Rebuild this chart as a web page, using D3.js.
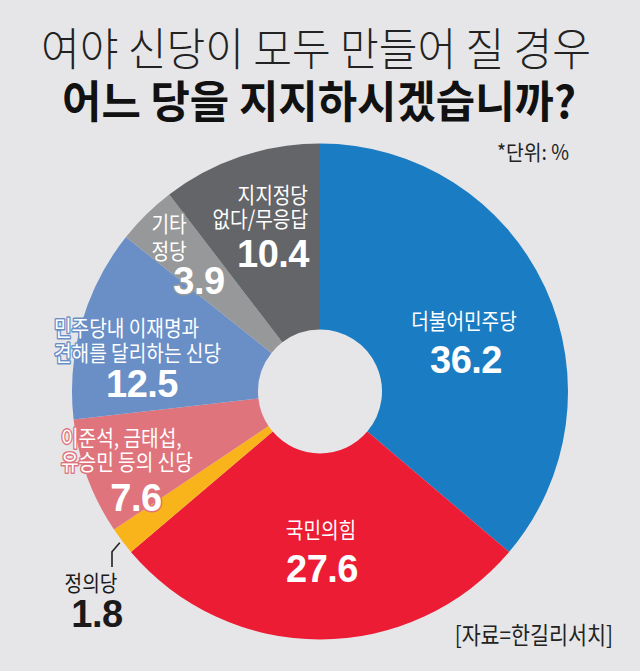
<!DOCTYPE html>
<html><head><meta charset="utf-8">
<script src="https://cdn.jsdelivr.net/npm/d3@7"></script>
<style>
html,body{margin:0;padding:0;background:#e6e6e8;}
svg{display:block;}
</style></head>
<body>
<script>
// ---- data ----
const categories = ["더불어민주당","국민의힘","정의당","이준석, 금태섭, 유승민 등의 신당","민주당내 이재명과 견해를 달리하는 신당","기타 정당","지지정당 없다/무응답"];
const values = [36.2, 27.6, 1.8, 7.6, 12.5, 3.9, 10.4];
const labelLines = [["더불어민주당"],["국민의힘"],["정의당"],["이준석, 금태섭,","유승민 등의 신당"],["민주당내 이재명과","견해를 달리하는 신당"],["기타","정당"],["지지정당","없다/무응답"]];
const titleLines = ["여야 신당이 모두 만들어 질 경우","어느 당을 지지하시겠습니까?"];
const unitNote = "*단위: %";
const sourceNote = "[자료=한길리서치]";

// ---- styles / layout ----
const colors = ["#1a7cc2","#ec1c34","#f8b41a","#e0747d","#6a8fc7","#97989a","#646568"];
const textColors = ["#fff","#fff","#1a1a1a","#fff","#fff","#fff","#fff"];
const layout = [
  {x:464, y:329, anchor:"middle", gap:0,  nx:466, ny:373, nanchor:"middle"},
  {x:321, y:538, anchor:"middle", gap:0,  nx:322, ny:582, nanchor:"middle"},
  {x:91,  y:591, anchor:"middle", gap:0,  nx:97,  ny:627, nanchor:"middle"},
  {x:61,  y:446, anchor:"start",  gap:24, nx:136, ny:511, nanchor:"middle"},
  {x:54,  y:336, anchor:"start",  gap:25, nx:142, ny:397, nanchor:"middle"},
  {x:169, y:232, anchor:"middle", gap:27, nx:199, ny:294, nanchor:"middle"},
  {x:308, y:203, anchor:"end",    gap:24, nx:309, ny:267, nanchor:"end"}
];
const W = 640, H = 671, cx = 320, cy = 391.5, R = 248, r0 = 62;
const KR = "'Noto Sans CJK KR','Noto Sans CJK SC',sans-serif";
const KR_LIGHT = "'Noto Sans CJK KR Light','Noto Sans CJK KR DemiLight','Noto Sans CJK KR',sans-serif";
const NUM = "'Liberation Sans',Arial,sans-serif";

const svg = d3.select("body").append("svg").attr("width",W).attr("height",H);
svg.append("rect").attr("width",W).attr("height",H).attr("fill","#e6e6e8");

function condense(sel, k){
  sel.each(function(){
    const len = this.getComputedTextLength();
    d3.select(this).attr("textLength", len*k).attr("lengthAdjust","spacingAndGlyphs");
  });
}

// titles
svg.append("text").attr("x",316).attr("y",66).attr("text-anchor","middle")
  .attr("font-family",KR_LIGHT).attr("font-weight",300).attr("font-size",45).attr("fill","#222")
  .text(titleLines[0]).attr("textLength",550).attr("lengthAdjust","spacingAndGlyphs");
svg.append("text").attr("x",319).attr("y",118).attr("text-anchor","middle")
  .attr("font-family",KR).attr("font-weight",700).attr("font-size",44).attr("fill","#111")
  .text(titleLines[1]).attr("textLength",514).attr("lengthAdjust","spacingAndGlyphs");

svg.append("text").attr("x",569).attr("y",160).attr("text-anchor","end")
  .attr("font-family",KR).attr("font-size",21).attr("fill","#222").text(unitNote)
  .call(condense,0.92);

// pie
const pie = d3.pie().sort(null).value(d=>d);
const arcs = pie(values);
const arc = d3.arc().innerRadius(r0).outerRadius(R);
const g = svg.append("g").attr("transform",`translate(${cx},${cy})`);
g.selectAll("path").data(arcs).join("path")
  .attr("d",arc).attr("fill",(d,i)=>colors[i]);

// leader line for small slice (정의당)
const small = arcs[2];
const mid = (small.startAngle+small.endAngle)/2;
const p0 = [cx + (R+3)*Math.sin(mid), cy - (R+3)*Math.cos(mid)];
const lx = layout[2].x + 21;
svg.append("path")
  .attr("d", d3.line()([p0, [lx, p0[1]+9], [lx, layout[2].y-24]]))
  .attr("fill","none").attr("stroke","#222").attr("stroke-width",1.6);

// labels
const fmt = d3.format(".1f");
arcs.forEach((d,i)=>{
  const L = layout[i];
  const halo = textColors[i]==="#fff";
  const t = svg.append("text").attr("text-anchor",L.anchor).attr("font-family",KR)
    .attr("font-size",22).attr("fill",textColors[i]);
  labelLines[i].forEach((line,j)=>{
    const ts = t.append("tspan").attr("x",L.x).attr("y",L.y + j*L.gap).text(line);
    condense(ts,0.87);
  });
  if(halo) t.attr("stroke",colors[i]).attr("stroke-width",3).attr("paint-order","stroke").attr("stroke-linejoin","round");
  const n = svg.append("text").attr("x",L.nx).attr("y",L.ny)
    .attr("text-anchor",L.nanchor).attr("font-family",NUM).attr("font-weight",700)
    .attr("font-size",38).attr("letter-spacing",-0.5).attr("fill",textColors[i]).text(fmt(d.data));
  if(halo) n.attr("stroke",colors[i]).attr("stroke-width",3).attr("paint-order","stroke").attr("stroke-linejoin","round");
});

svg.append("text").attr("x",613).attr("y",644).attr("text-anchor","end")
  .attr("font-family",KR).attr("font-size",24).attr("fill","#222").text(sourceNote)
  .call(condense,0.86);
</script>
</body></html>
